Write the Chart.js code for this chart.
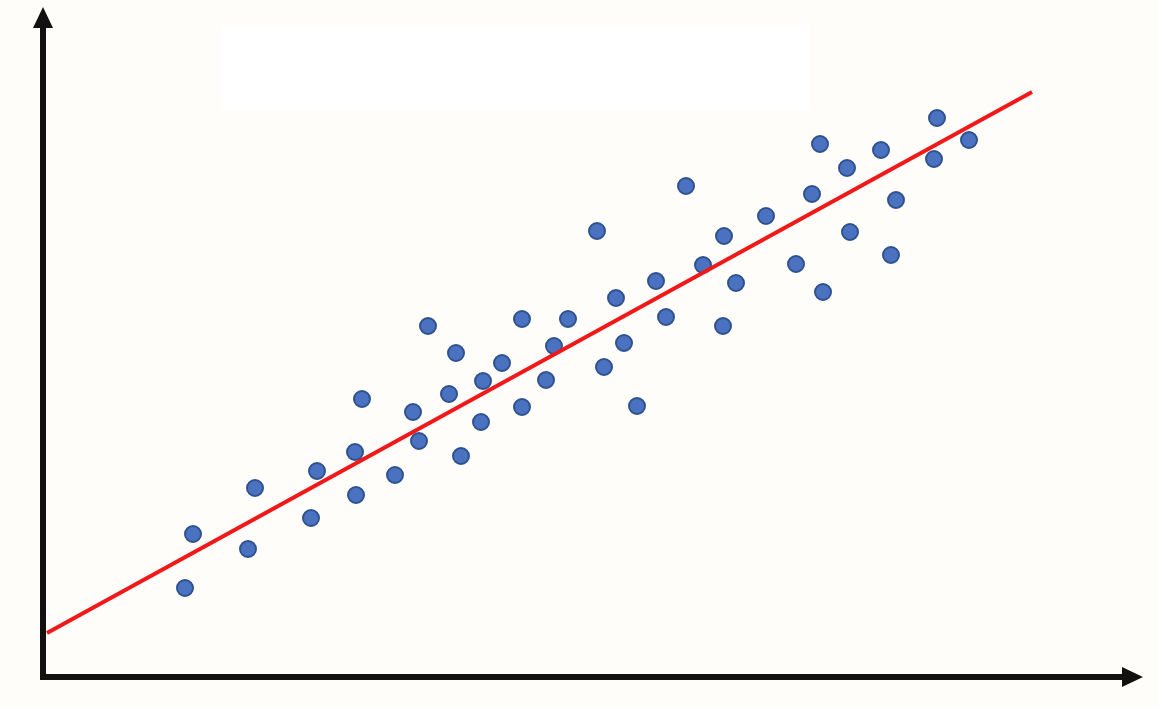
<!DOCTYPE html>
<html>
<head>
<meta charset="utf-8">
<script src="https://cdn.jsdelivr.net/npm/chart.js@4"></script>
<style>
  html, body { margin: 0; padding: 0; background: #fffdf9; }
  #wrap { width: 1158px; height: 707px; }
</style>
</head>
<body>
<div id="wrap"><canvas id="chart"></canvas></div>
<script>
// data (arbitrary units)
const xs = [14.2, 15.0, 20.5, 21.2, 26.8, 27.4, 31.3, 31.2, 31.9, 35.2,
  37.0, 37.6, 38.5, 40.6, 41.3, 41.8, 43.8, 44.0, 45.9, 47.9,
  47.9, 50.3, 51.1, 52.5, 55.4, 56.1, 57.3, 58.1, 59.4, 61.3,
  62.3, 64.3, 66.0, 68.0, 68.1, 69.3, 72.3, 75.3, 76.9, 77.7,
  78.0, 80.4, 80.7, 83.8, 84.8, 85.3, 89.1, 89.4, 92.6];
const ys = [8.9, 14.3, 12.8, 18.9, 15.9, 20.6, 18.2, 22.5, 27.8, 20.2,
  26.5, 23.6, 35.1, 28.3, 32.4, 22.1, 25.5, 29.6, 31.4, 27.0,
  35.8, 29.7, 33.1, 35.8, 44.6, 31.0, 37.9, 33.4, 27.1, 39.6,
  36.0, 49.1, 41.2, 35.1, 44.1, 39.4, 46.1, 41.3, 48.3, 53.3,
  38.5, 50.9, 44.5, 52.7, 42.2, 47.7, 51.8, 55.9, 53.7];
const fitX = [0.4, 98.9];
const fitY = [4.4, 58.5];

const points = xs.map((x, i) => ({ x: x, y: ys[i] }));
const fitLine = fitX.map((x, i) => ({ x: x, y: fitY[i] }));

// background + arrowed axes
const axesPlugin = {
  id: 'axes',
  beforeDraw(chart) {
    const c = chart.ctx;
    c.save();
    c.fillStyle = '#fffdf9';
    c.fillRect(0, 0, chart.width, chart.height);
    c.fillStyle = '#ffffff';
    c.fillRect(221, 25, 588, 85);
    c.restore();
  },
  afterDraw(chart) {
    const c = chart.ctx;
    const a = chart.chartArea;
    c.save();
    c.strokeStyle = '#12110f';
    c.fillStyle = '#12110f';
    c.lineWidth = 6;
    c.beginPath();
    c.moveTo(a.left, a.bottom + 3);
    c.lineTo(a.left, a.top + 18);
    c.moveTo(a.left - 3, a.bottom);
    c.lineTo(a.right - 18, a.bottom);
    c.stroke();
    // up arrow
    c.beginPath();
    c.moveTo(a.left, a.top - 3);
    c.lineTo(a.left - 10, a.top + 18);
    c.lineTo(a.left + 10, a.top + 18);
    c.closePath();
    c.fill();
    // right arrow
    c.beginPath();
    c.moveTo(a.right, a.bottom);
    c.lineTo(a.right - 21, a.bottom - 10);
    c.lineTo(a.right - 21, a.bottom + 10);
    c.closePath();
    c.fill();
    c.restore();
  }
};

new Chart(document.getElementById("chart"), {
  type: 'scatter',
  data: {
    datasets: [{
      data: points,
      backgroundColor: '#4a72c0',
      borderColor: '#2f528f',
      borderWidth: 2,
      pointRadius: 8,
      order: 2
    }, {
      type: 'line',
      data: fitLine,
      borderColor: '#f01818',
      borderWidth: 4,
      pointRadius: 0,
      fill: false,
      order: 1
    }]
  },
  options: {
    responsive: true,
    maintainAspectRatio: false,
    animation: false,
    layout: { padding: { left: 43, top: 7, right: 15, bottom: 30 } },
    plugins: { legend: { display: false }, tooltip: { enabled: false } },
    scales: {
      x: { type: 'linear', min: 0, max: 110, display: false },
      y: { type: 'linear', min: 0, max: 66.7, display: false }
    }
  },
  plugins: [axesPlugin]
});
</script>
</body>
</html>
